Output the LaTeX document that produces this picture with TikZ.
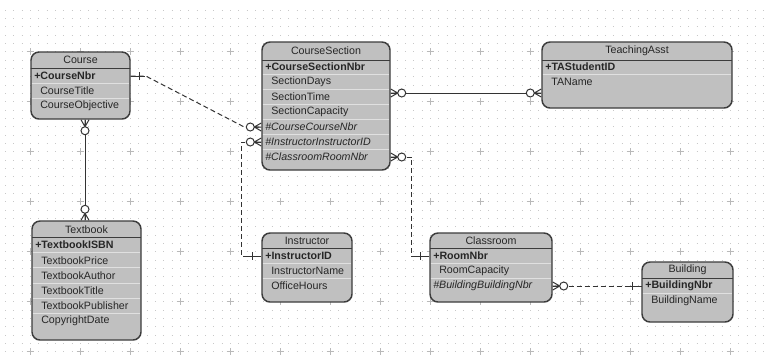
\documentclass[tikz,border=0pt]{standalone}
\usepackage{fontspec}
\setmainfont{Liberation Sans}
\usetikzlibrary{fit,calc}

\definecolor{entgray}{RGB}{192,192,192}
\definecolor{edgegray}{RGB}{60,60,60}
\definecolor{dotgray}{RGB}{200,200,200}

\tikzset{
  entity/.style={draw=edgegray, line width=1.1pt, fill=entgray, rounded corners=6pt, inner sep=0pt},
  etitle/.style={inner sep=0pt, text=black!85, font=\fontsize{8}{9.6}\selectfont},
  attr/.style={anchor=west, inner sep=0pt, text=black!85, font=\fontsize{8}{9.6}\selectfont},
  pkey/.style={attr, font=\fontsize{8}{9.6}\selectfont\bfseries},
  fkey/.style={attr, font=\fontsize{8}{9.6}\selectfont\itshape},
  titlerule/.style={draw=edgegray, line width=0.6pt},
  rowrule/.style={draw=white!88!black, line width=0.75pt},
  relline/.style={draw=black!80, line width=0.75pt},
  reldash/.style={relline, dash pattern=on 3.75pt off 2.25pt},
  % crow's foot with circle, edge at the origin, line going to +x
  zeromany/.pic={
    \draw[relline] (0,-4) -- (7,0) -- (0,4) (0,0) -- (7,0);
    \draw[relline, fill=white] (11,0) circle (4);
  },
  % single bar on a short stub
  onebar/.pic={
    \draw[relline] (0,0) -- (14,0) (9,-4) -- (9,4);
  }
}

\begin{document}
\begin{tikzpicture}[x=0.75pt,y=0.75pt,yscale=-1,xscale=1]
\useasboundingbox (0,0) rectangle (770,355);
\fill[white] (0,0) rectangle (770,355);

%Background grid: dots and crosses
\foreach \k in {0,...,41}
  \draw[dotgray, line width=0.75pt, dash pattern=on 0.75pt off 5.5pt] (5,{10+8.3333*\k}) -- (770,{10+8.3333*\k});
\foreach \i in {0,...,14}
  \foreach \j in {1,...,7}
    \draw[gray!55, line width=0.6pt] ({26.5+50*\i},{1.7+50*\j}) -- ++(7,0) ({30+50*\i},{-1.8+50*\j}) -- ++(0,7);

%Entity: Course
\node[entity, fit={(31,52) (130,119)}] (course) {};
\draw[titlerule] (31,68) -- (130,68);
\foreach \y in {83.5,98.5} \draw[rowrule] (31.6,\y) -- (129.4,\y);
\node[etitle] (coursettl) at (80.5,60) {Course};
\node[pkey] (cnbr) at (34,76) {+CourseNbr};
\node[attr] (ctitle) at (40,91) {CourseTitle};
\node[attr] (cobj) at (40,106) {CourseObjective};

%Entity: CourseSection
\node[entity, fit={(262,42) (390,170)}] (csec) {};
\draw[titlerule] (262,60) -- (390,60);
\foreach \y in {74.5,89.5,...,149.5} \draw[rowrule] (262.6,\y) -- (389.4,\y);
\node[etitle] (csecttl) at (326,51) {CourseSection};
\node[pkey] (csnbr) at (265,67) {+CourseSectionNbr};
\node[attr] (sdays) at (271,82) {SectionDays};
\node[attr] (stime) at (271,97) {SectionTime};
\node[attr] (scap) at (271,112) {SectionCapacity};
\node[fkey] (ccnbr) at (265,127) {\#CourseCourseNbr};
\node[fkey] (cinst) at (265,142) {\#InstructorInstructorID};
\node[fkey] (croom) at (265,157) {\#ClassroomRoomNbr};

%Entity: TeachingAsst
\node[entity, fit={(542,42) (732,108)}] (ta) {};
\draw[titlerule] (542,60) -- (732,60);
\draw[rowrule] (542.6,74.5) -- (731.4,74.5);
\node[etitle] (tattl) at (637,51) {TeachingAsst};
\node[pkey] (tasid) at (545,67) {+TAStudentID};
\node[attr] (taname) at (551,82) {TAName};

%Entity: Textbook
\node[entity, fit={(32,221) (141,340)}] (tbook) {};
\draw[titlerule] (32,237) -- (141,237);
\foreach \y in {252.6,267.8,283,298.2,313.4} \draw[rowrule] (32.6,\y) -- (140.4,\y);
\node[etitle] (tbookttl) at (86.5,229.5) {Textbook};
\node[pkey] (tisbn) at (35,245) {+TextbookISBN};
\node[attr] (tprice) at (41,260.2) {TextbookPrice};
\node[attr] (tauthor) at (41,275.4) {TextbookAuthor};
\node[attr] (ttitle) at (41,290.6) {TextbookTitle};
\node[attr] (tpub) at (41,305.8) {TextbookPublisher};
\node[attr] (tcopy) at (41,321) {CopyrightDate};

%Entity: Instructor
\node[entity, fit={(262,233) (352,302)}] (instr) {};
\draw[titlerule] (262,248) -- (352,248);
\foreach \y in {263.5,278.5} \draw[rowrule] (262.6,\y) -- (351.4,\y);
\node[etitle] (instrttl) at (307,240.5) {Instructor};
\node[pkey] (iid) at (265,256) {+InstructorID};
\node[attr] (iname) at (271,271) {InstructorName};
\node[attr] (ihours) at (271,286) {OfficeHours};

%Entity: Classroom
\node[entity, fit={(430,233) (552,302)}] (room) {};
\draw[titlerule] (430,248) -- (552,248);
\foreach \y in {263.5,278.5} \draw[rowrule] (430.6,\y) -- (551.4,\y);
\node[etitle] (roomttl) at (491,240.5) {Classroom};
\node[pkey] (rnbr) at (433,256) {+RoomNbr};
\node[attr] (rcap) at (439,271) {RoomCapacity};
\node[fkey] (rbld) at (433,286) {\#BuildingBuildingNbr};

%Entity: Building
\node[entity, fit={(642,262) (733,322)}] (bldg) {};
\draw[titlerule] (642,278) -- (733,278);
\draw[rowrule] (642.6,293.5) -- (732.4,293.5);
\node[etitle] (bldgttl) at (687.5,270) {Building};
\node[pkey] (bnbr) at (645,286) {+BuildingNbr};
\node[attr] (bname) at (651,301) {BuildingName};

%Relationship: Course -- CourseSection
\draw[reldash] (course.east |- cnbr) -- ++(15,0) -- ($(csec.west |- ccnbr)+(-17,0)$) -- (csec.west |- ccnbr);
\pic at (course.east |- cnbr) {onebar};
\pic[rotate=180] at (csec.west |- ccnbr) {zeromany};

%Relationship: Instructor -- CourseSection
\draw[reldash] (csec.west |- cinst) -- ++(-20,0) |- (instr.west |- iid);
\pic[rotate=180] at (csec.west |- cinst) {zeromany};
\pic[rotate=180] at (instr.west |- iid) {onebar};

%Relationship: Classroom -- CourseSection
\draw[reldash] (csec.east |- croom) -- ++(21,0) |- (room.west |- rnbr);
\pic at (csec.east |- croom) {zeromany};
\pic[rotate=180] at (room.west |- rnbr) {onebar};

%Relationship: CourseSection -- TeachingAsst
\draw[relline] (csec.east |- 0,93) -- (ta.west |- 0,93);
\pic at (csec.east |- 0,93) {zeromany};
\pic[rotate=180] at (ta.west |- 0,93) {zeromany};

%Relationship: Course -- Textbook
\draw[relline] (course.south -| 85,0) -- (tbook.north -| 85,0);
\pic[rotate=-90] at (course.south -| 85,0) {zeromany};
\pic[rotate=90] at (tbook.north -| 85,0) {zeromany};

%Relationship: Classroom -- Building
\draw[reldash] (room.east |- rbld) -- (bldg.west |- bnbr);
\pic at (room.east |- rbld) {zeromany};
\pic[rotate=180] at (bldg.west |- bnbr) {onebar};

\end{tikzpicture}
\end{document}
